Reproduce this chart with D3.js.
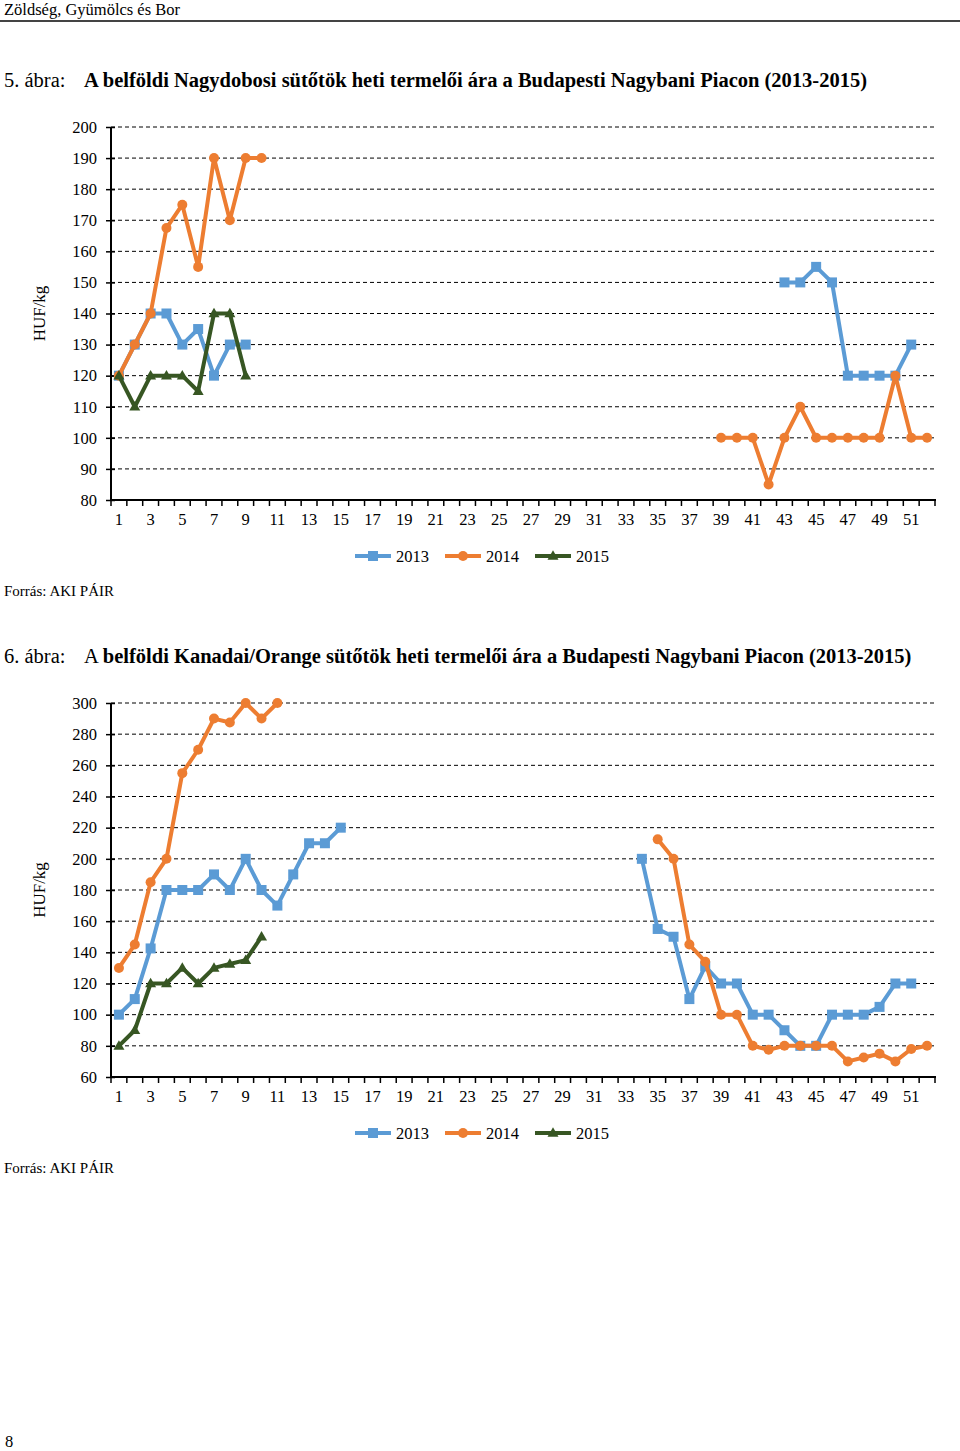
<!DOCTYPE html>
<html><head><meta charset="utf-8">
<script src="https://cdn.jsdelivr.net/npm/d3@7"></script>
<style>
html,body{margin:0;padding:0;background:#fff;}
svg{display:block;font-family:"Liberation Serif","Times New Roman",serif;}
svg text{font-family:"Liberation Serif","Times New Roman",serif !important;}
</style></head>
<body>
<svg id="page" width="960" height="1451"></svg>
<script>
// ---------- DATA ----------
const weeks = d3.range(1, 53);
const seriesNames = ["2013", "2014", "2015"];
const seriesColors = ["#5B9BD5", "#ED7D31", "#375623"];
const markerShapes = ["square", "circle", "triangle"];

// Chart 1: Nagydobosi sütőtök (HUF/kg), value per week 1..52, missing = no data
const c1_2013 = {1:120,2:130,3:140,4:140,5:130,6:135,7:120,8:130,9:130,
  43:150,44:150,45:155,46:150,47:120,48:120,49:120,50:120,51:130};
const c1_2014 = {1:120,2:130,3:140,4:167.5,5:175,6:155,7:190,8:170,9:190,10:190,
  39:100,40:100,41:100,42:85,43:100,44:110,45:100,46:100,47:100,48:100,49:100,50:120,51:100,52:100};
const c1_2015 = {1:120,2:110,3:120,4:120,5:120,6:115,7:140,8:140,9:120};
const c1_yTicks = [80,90,100,110,120,130,140,150,160,170,180,190,200];

// Chart 2: Kanadai/Orange sütőtök (HUF/kg)
const c2_2013 = {1:100,2:110,3:142.5,4:180,5:180,6:180,7:190,8:180,9:200,10:180,11:170,12:190,13:210,14:210,15:220,
  34:200,35:155,36:150,37:110,38:131,39:120,40:120,41:100,42:100,43:90,44:80,45:80,46:100,47:100,48:100,49:105,50:120,51:120};
const c2_2014 = {1:130,2:145,3:185,4:200,5:255,6:270,7:290,8:287.5,9:300,10:290,11:300,
  35:212.5,36:200,37:145,38:134,39:100,40:100,41:80,42:77.5,43:80,44:80,45:80,46:80,47:70,48:72.5,49:75,50:70,51:78,52:80};
const c2_2015 = {1:80,2:90,3:120,4:120,5:130,6:120,7:130,8:132.5,9:135,10:150};
const c2_yTicks = [60,80,100,120,140,160,180,200,220,240,260,280,300];

const xTickLabels = weeks.filter(w => w % 2 === 1);

// ---------- DRAW ----------
const svg = d3.select("#page");
const BLACK = "#000";
const FONT = "Liberation Serif";

svg.append("text").attr("x", 4).attr("y", 15).attr("font-size", 16.5).text("Zöldség, Gyümölcs és Bor");
svg.append("line").attr("x1", 0).attr("x2", 960).attr("y1", 21).attr("y2", 21)
  .attr("stroke", "#444").attr("stroke-width", 2);

function title(y, num, rest, boldA) {
  svg.append("text").attr("x", 4).attr("y", y).attr("font-size", 20.5).text(num);
  const tt = svg.append("text").attr("x", 84).attr("y", y).attr("font-size", 20.5);
  if (boldA) {
    tt.append("tspan").attr("font-weight", "bold").text("A " + rest);
  } else {
    tt.append("tspan").text("A ");
    tt.append("tspan").attr("font-weight", "bold").text(rest);
  }
}

function marker(g, shape, x, y, color, size) {
  if (shape === "square") {
    g.append("rect").attr("x", x - size/2).attr("y", y - size/2).attr("width", size).attr("height", size).attr("fill", color);
  } else if (shape === "circle") {
    g.append("circle").attr("cx", x).attr("cy", y).attr("r", size/2).attr("fill", color);
  } else {
    const h = size * 0.95;
    g.append("path").attr("d", `M${x},${y - h*0.6}L${x + size/2 + 0.5},${y + h*0.4}L${x - size/2 - 0.5},${y + h*0.4}Z`).attr("fill", color);
  }
}

function chart(cfg) {
  const g = svg.append("g");
  const x = d3.scaleBand().domain(weeks).range([111, 935]).padding(0);
  const y = d3.scaleLinear().domain([cfg.yTicks[0], cfg.yTicks[cfg.yTicks.length - 1]]).range([cfg.bottom, cfg.top]);

  g.selectAll(".grid").data(cfg.yTicks.slice(1)).enter().append("line")
    .attr("x1", 111).attr("x2", 935).attr("y1", d => y(d)).attr("y2", d => y(d))
    .attr("stroke", BLACK).attr("stroke-width", 1).attr("stroke-dasharray", "4,3");

  const ya = g.append("g").attr("transform", "translate(111,0)")
    .call(d3.axisLeft(y).tickValues(cfg.yTicks).tickSize(5).tickPadding(9).tickFormat(d3.format("d")));
  ya.attr("font-family", FONT);
  ya.select(".domain").attr("stroke-width", 2).attr("d", `M0,${cfg.bottom}V${cfg.top}`);
  ya.selectAll(".tick line").attr("stroke-width", 1.5).attr("x1", 4);
  ya.selectAll("text").attr("font-size", 16.5).attr("font-family", FONT).attr("fill", BLACK);

  const xa = g.append("g").attr("transform", `translate(0,${cfg.bottom})`)
    .call(d3.axisBottom(x).tickValues(xTickLabels).tickSize(0).tickPadding(13));
  xa.attr("font-family", FONT);
  xa.select(".domain").remove();
  xa.selectAll("text").attr("font-size", 16.5).attr("font-family", FONT).attr("fill", BLACK);
  g.append("line").attr("x1", 110).attr("x2", 936).attr("y1", cfg.bottom).attr("y2", cfg.bottom)
    .attr("stroke", BLACK).attr("stroke-width", 2);
  const bounds = weeks.map(w => x(w)).concat([x(52) + x.bandwidth()]);
  g.selectAll(".xt").data(bounds).enter().append("line")
    .attr("x1", d => d).attr("x2", d => d).attr("y1", cfg.bottom).attr("y2", cfg.bottom + 6)
    .attr("stroke", BLACK).attr("stroke-width", 1.5);

  g.append("text").attr("transform", `translate(45,${(cfg.top + cfg.bottom) / 2}) rotate(-90)`)
    .attr("text-anchor", "middle").attr("font-size", 17).text("HUF/kg");

  const line = d3.line().defined(d => d.v != null)
    .x(d => x(d.w) + x.bandwidth() / 2).y(d => y(d.v));
  cfg.series.forEach((s, i) => {
    const pts = weeks.map(w => ({ w, v: s[w] != null ? s[w] : null }));
    g.append("path").datum(pts).attr("d", line).attr("fill", "none")
      .attr("stroke", seriesColors[i]).attr("stroke-width", 4).attr("stroke-linejoin", "round");
    const mg = g.append("g");
    pts.filter(d => d.v != null).forEach(d =>
      marker(mg, markerShapes[i], x(d.w) + x.bandwidth() / 2, y(d.v), seriesColors[i], 10));
  });

  const lx = [355, 445, 535];
  seriesNames.forEach((n, i) => {
    const lg = g.append("g");
    lg.append("line").attr("x1", lx[i]).attr("x2", lx[i] + 36).attr("y1", cfg.legendY).attr("y2", cfg.legendY)
      .attr("stroke", seriesColors[i]).attr("stroke-width", 4);
    marker(lg, markerShapes[i], lx[i] + 18, cfg.legendY, seriesColors[i], 10);
    lg.append("text").attr("x", lx[i] + 41).attr("y", cfg.legendY + 6).attr("font-size", 16.5).text(n);
  });

  svg.append("text").attr("x", 4).attr("y", cfg.sourceY).attr("font-size", 15).text("Forrás: AKI PÁIR");
}

title(87, "5. ábra:", "belföldi Nagydobosi sütőtök heti termelői ára a Budapesti Nagybani Piacon (2013-2015)", true);
chart({ top: 127, bottom: 500, yTicks: c1_yTicks, series: [c1_2013, c1_2014, c1_2015], legendY: 556, sourceY: 596 });

title(663, "6. ábra:", "belföldi Kanadai/Orange sütőtök heti termelői ára a Budapesti Nagybani Piacon (2013-2015)", false);
chart({ top: 703, bottom: 1077, yTicks: c2_yTicks, series: [c2_2013, c2_2014, c2_2015], legendY: 1133, sourceY: 1173 });

svg.append("text").attr("x", 5).attr("y", 1447).attr("font-size", 16.5).text("8");
</script>
</body></html>
